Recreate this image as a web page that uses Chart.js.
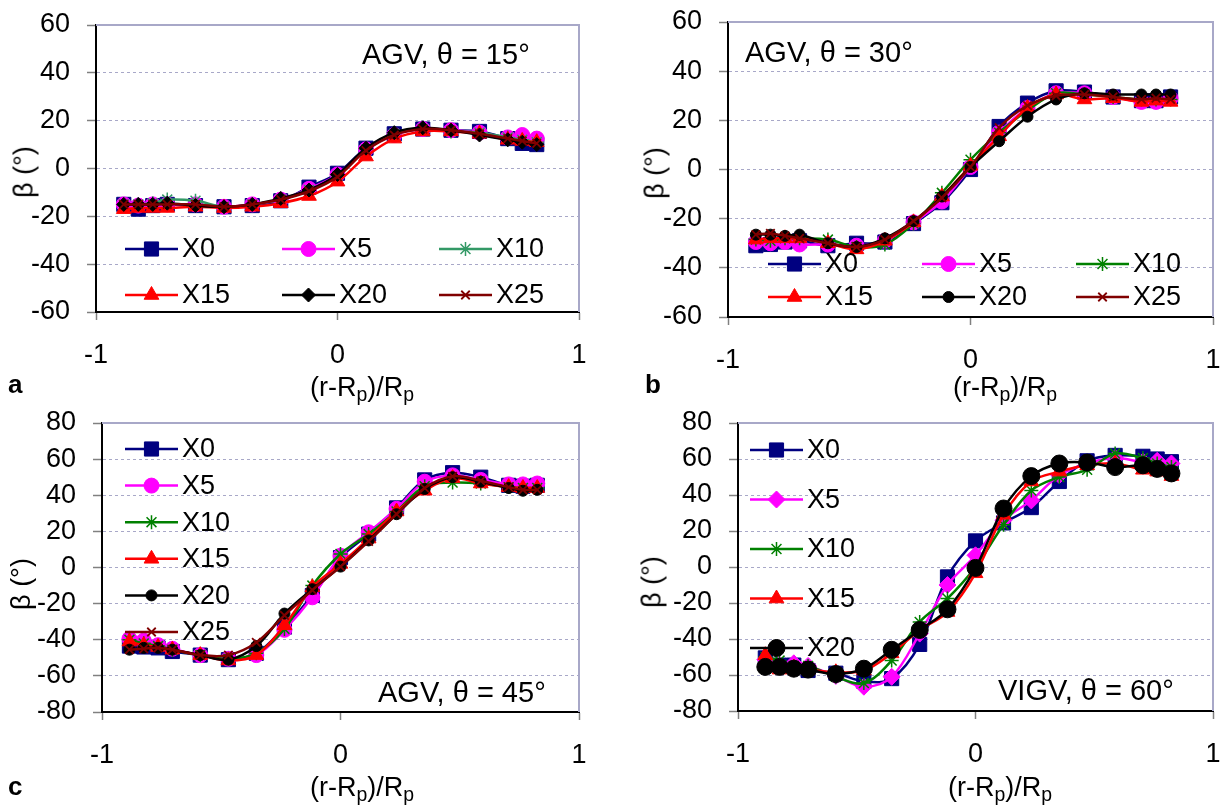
<!DOCTYPE html>
<html>
<head>
<meta charset="utf-8">
<script src="https://cdn.jsdelivr.net/npm/chart.js@4.4.1/dist/chart.umd.min.js"></script>
<style>
  body { margin: 0; background: #fff; }
  #page { position: relative; width: 1224px; height: 808px; font-family: "Liberation Sans", Arial, sans-serif; color: #000; }
  #page canvas { position: absolute; }
  .txt { position: absolute; white-space: nowrap; font-size: 27px; line-height: 1; }
  .ctr { transform: translate(-50%, -50%); }
  .rot { transform: translate(-50%, -50%) rotate(-90deg); }
  .mid { transform: translateY(-50%); }
  .note { font-size: 29px; }
  .letter { font-weight: bold; font-size: 26px; }
  sub { font-size: 0.72em; vertical-align: -0.3em; line-height: 0; }
</style>
</head>
<body>
<div id="page">
  <canvas id="chartA" width="612" height="404" style="left:0;top:0"></canvas>
  <canvas id="chartB" width="612" height="404" style="left:612px;top:0"></canvas>
  <canvas id="chartC" width="612" height="404" style="left:0;top:404px"></canvas>
  <canvas id="chartD" width="612" height="404" style="left:612px;top:404px"></canvas>

  <div class="txt rot" style="left:24px;top:172px">β (°)</div>
  <div class="txt rot" style="left:655px;top:173px">β (°)</div>
  <div class="txt rot" style="left:21px;top:584px">β (°)</div>
  <div class="txt rot" style="left:652px;top:582px">β (°)</div>

  <div class="txt ctr" style="left:362px;top:387px">(r-R<sub>p</sub>)/R<sub>p</sub></div>
  <div class="txt ctr" style="left:1005px;top:387px">(r-R<sub>p</sub>)/R<sub>p</sub></div>
  <div class="txt ctr" style="left:362px;top:787px">(r-R<sub>p</sub>)/R<sub>p</sub></div>
  <div class="txt ctr" style="left:1000px;top:787px">(r-R<sub>p</sub>)/R<sub>p</sub></div>

  <div class="txt mid letter" style="left:8px;top:384px">a</div>
  <div class="txt mid letter" style="left:645px;top:384px">b</div>
  <div class="txt mid letter" style="left:8px;top:786px">c</div>

  <div class="txt mid note" style="left:362px;top:54px">AGV, θ = 15°</div>
  <div class="txt mid note" style="left:745px;top:52px">AGV, θ = 30°</div>
  <div class="txt mid note" style="left:378px;top:692px">AGV, θ = 45°</div>
  <div class="txt mid note" style="left:998px;top:690px">VIGV, θ = 60°</div>
</div>
<script>
// radial positions (r-Rp)/Rp shared by all four panels
const xs = [-0.885, -0.825, -0.765, -0.705, -0.588, -0.47, -0.353, -0.235, -0.118, 0,
            0.118, 0.235, 0.353, 0.47, 0.588, 0.705, 0.765, 0.825];

const xTicks = [-1, 0, 1];
const yTicksAB = [-60, -40, -20, 0, 20, 40, 60];
const yTicksCD = [-80, -60, -40, -20, 0, 20, 40, 60, 80];

// a: AGV, theta = 15
const a_X0  = [-15, -17, -15.5, -15, -15.5, -16, -15.5, -13.5, -7.8, -2, 8.5, 14.5, 16.5, 16, 15.5, 12.5, 10.5, 10];
const a_X5  = [-15, -15.5, -15, -15, -15, -16, -15, -13, -8.5, -2.5, 8, 14, 16.5, 16, 15, 13, 14, 12.5];
const a_X10 = [-15, -15, -14.5, -13, -13.5, -16, -15, -13, -9, -3, 8, 14.5, 16.5, 15.5, 15, 13, 12, 11];
const a_X15 = [-17, -16.5, -16.5, -16.5, -16, -16.5, -16, -14.5, -11.5, -5.5, 5, 12.5, 15.5, 15.5, 14.5, 12, 11.5, 11];
const a_X20 = [-15, -15, -15, -14.5, -15.5, -16, -15, -12.5, -9, -2.5, 8.5, 15, 17, 16, 14, 12, 11, 10];
const a_X25 = [-15, -15, -15, -15, -15, -16, -15, -13, -9.5, -3.5, 7.5, 14, 16.5, 16, 14.5, 12.5, 11.5, 10.5];

// b: AGV, theta = 30
const b_X0  = [-31, -30.5, -29.5, -29, -31, -30, -29.5, -22, -13.5, 0, 17.5, 27, 32, 31.5, 29.5, 28, 28, 29.5];
const b_X5  = [-29.5, -30, -29.5, -30.5, -30.5, -31, -29, -21.5, -13, 1, 15, 25, 31, 31, 29.5, 27.5, 27.5, 29];
const b_X10 = [-28.5, -29, -28, -28, -28.5, -31.5, -30.5, -22, -9.5, 4, 15, 24, 31, 30.5, 29.5, 28.5, 28.5, 28.5];
const b_X15 = [-28.5, -28, -28, -28, -30, -32.5, -29, -21.5, -11, 1.5, 13.5, 25, 30.5, 28.5, 29, 27.5, 28, 27.5];
const b_X20 = [-26.5, -26.5, -27, -26.5, -30, -31.5, -28, -21, -11, 1, 11.5, 21.5, 28.5, 31, 30.5, 30.5, 30.5, 30.5];
const b_X25 = [-26.5, -26, -27, -28, -30, -31.5, -28.5, -21, -11.5, 1, 17, 26, 30, 30.5, 29.5, 28.5, 29, 28.5];

// c: AGV, theta = 45
const c_X0  = [-43.5, -44, -44.5, -46.5, -48.5, -51, -47.5, -33, -15.5, 5.5, 18.5, 33, 48.5, 52.5, 50, 45.5, 45, 45.5];
const c_X5  = [-39.5, -40.5, -43, -45, -48.5, -50.5, -48.5, -34.5, -16.5, 6.5, 19.5, 32.5, 47.5, 51, 48.5, 46, 46, 46.5];
const c_X10 = [-40, -42, -43.5, -45.5, -48.5, -50.5, -47.5, -34, -10, 7.5, 18.5, 31, 45, 47, 46.5, 44.5, 44, 44];
const c_X15 = [-41, -43, -44, -45.5, -48.5, -51.5, -48.5, -32, -11, 2, 16, 31, 42.5, 49.5, 46.5, 44.5, 44, 44];
const c_X20 = [-45.5, -44.5, -44.5, -45.5, -48.5, -51, -43.5, -25.5, -12, 0.5, 15, 29.5, 43.5, 50, 47.5, 44, 42.5, 43];
const c_X25 = [-45.5, -45, -44.5, -45.5, -48.5, -48.5, -41.5, -26.5, -12.5, 0.5, 14.5, 29.5, 44, 50.5, 48, 44.5, 43, 43];

// d: VIGV, theta = 60
const d_X0  = [-50.5, -54.5, -54.5, -57.5, -59, -63.5, -62, -43, -5.5, 14.5, 24.5, 33, 47.5, 59, 62, 61.5, 60, 58.5];
const d_X5  = [-51.5, -54.5, -53.5, -55, -60.5, -66.5, -61, -37, -10, 6.5, 26, 37, 51, 57.5, 60.5, 58.5, 59, 57.5];
const d_X10 = [-50, -52, -55, -55, -61, -64.5, -52, -30.5, -17.5, 0, 23.5, 42.5, 50, 54, 63, 60.5, 57.5, 55.5];
const d_X15 = [-49, -57, -56, -57, -58.5, -57.5, -48, -35, -25, -3.5, 29, 47.5, 53, 56.5, 57.5, 54, 53, 50.5];
const d_X20 = [-55.5, -55.5, -56.5, -57, -59.5, -56.5, -46, -35, -23.5, -0.5, 32.5, 50.5, 57.5, 58, 55.5, 56.5, 54.5, 52];

const FONT = '"Liberation Sans", Arial, sans-serif';

// marker looks
const navySq   = { color: '#000080', shape: 'rect', r: 10 };
const pinkDot  = { color: '#ff00ff', shape: 'circle', r: 7.5 };
const pinkDia  = { color: '#ff00ff', shape: 'rectRot', r: 8.5 };
const tealStar = { color: '#339966', shape: 'star', r: 7, bw: 1.5 };
const greenStar = { color: '#008000', shape: 'star', r: 7, bw: 1.5 };
const redTri   = { color: '#ff0000', shape: 'triangle', r: 8.5 };
const blackDia = { color: '#000000', shape: 'rectRot', r: 7 };
const blackDot = { color: '#000000', shape: 'circle', r: 5.5 };
const bigDot   = { color: '#000000', shape: 'circle', r: 8.5 };
const maroonX  = { color: '#800000', shape: 'crossRot', r: 6, bw: 1.8 };

const frame = {
  id: 'frame',
  beforeDatasetsDraw(chart) {
    const { ctx, chartArea: a } = chart;
    ctx.save();
    ctx.strokeStyle = '#a8a8c8';
    ctx.lineWidth = 2;
    ctx.beginPath();
    ctx.moveTo(a.left, a.top);
    ctx.lineTo(a.right, a.top);
    ctx.lineTo(a.right, a.bottom);
    ctx.stroke();
    ctx.restore();
  }
};

// legend drawn inside the plot area like the excel original
const insideLegend = {
  id: 'insideLegend',
  afterDatasetsDraw(chart, args, opts) {
    const ctx = chart.ctx, area = chart.chartArea;
    ctx.save();
    chart.data.datasets.forEach(function (ds, i) {
      const col = i % opts.cols, row = Math.floor(i / opts.cols);
      const x = area.left + opts.x + col * opts.dx;
      const y = area.top + opts.y + row * opts.dy;
      ctx.setLineDash([]);
      ctx.strokeStyle = ds.borderColor;
      ctx.lineWidth = ds.borderWidth;
      ctx.beginPath();
      ctx.moveTo(x, y);
      ctx.lineTo(x + 53, y);
      ctx.stroke();
      ctx.fillStyle = ds.pointBackgroundColor;
      ctx.strokeStyle = ds.pointBorderColor;
      ctx.lineWidth = ds.pointBorderWidth;
      Chart.helpers.drawPoint(ctx, {
        pointStyle: ds.pointStyle, radius: ds.pointRadius, rotation: 0, borderWidth: ds.pointBorderWidth
      }, x + 26.5, y);
      ctx.fillStyle = '#000';
      ctx.font = '27px ' + FONT;
      ctx.textAlign = 'left';
      ctx.textBaseline = 'middle';
      ctx.fillText(ds.label, x + 57, y + 1);
    });
    ctx.restore();
  }
};

function makeChart(id, series, yTicks, box, legend) {
  const n = series.length;
  const datasets = series.map(function (s, i) {
    const st = s[2];
    return {
      label: s[0],
      data: xs.map(function (x, k) { return { x: x, y: s[1][k] }; }),
      borderColor: st.color,
      backgroundColor: st.color,
      borderWidth: 2.5,
      pointStyle: st.shape,
      pointRadius: st.r,
      pointBackgroundColor: st.color,
      pointBorderColor: st.color,
      pointBorderWidth: st.bw || 1,
      tension: 0.35,
      fill: false,
      order: n - i
    };
  });
  return new Chart(document.getElementById(id), {
    type: 'line',
    data: { datasets: datasets },
    plugins: [frame, insideLegend],
    options: {
      responsive: false,
      animation: false,
      devicePixelRatio: 1,
      layout: { padding: { top: box.top, right: box.right, left: 0, bottom: 0 } },
      plugins: {
        legend: { display: false },
        tooltip: { enabled: false },
        insideLegend: legend
      },
      scales: {
        x: {
          type: 'linear',
          min: xTicks[0],
          max: xTicks[xTicks.length - 1],
          afterBuildTicks: function (s) { s.ticks = xTicks.map(function (v) { return { value: v }; }); },
          afterFit: function (s) { s.height = box.xh; s.paddingLeft = 0; s.paddingRight = 0; },
          grid: { drawOnChartArea: false, tickLength: 8, tickColor: '#808080', tickWidth: 1.5 },
          border: { color: '#000', width: 2 },
          ticks: {
            padding: 19, color: '#000', font: { family: FONT, size: 27 },
            maxRotation: 0, autoSkip: false,
            callback: function (v) { return String(v); }
          }
        },
        y: {
          min: yTicks[0],
          max: yTicks[yTicks.length - 1],
          afterBuildTicks: function (s) { s.ticks = yTicks.map(function (v) { return { value: v }; }); },
          // keep the plot box where the original has it
          afterFit: function (s) { s.width = box.yw; s.paddingTop = 0; s.paddingBottom = 0; },
          grid: { color: '#a8a8c8', lineWidth: 1, tickLength: 9, tickColor: '#808080', tickWidth: 1.5 },
          border: { color: '#000', width: 2, dash: [3, 3] },
          ticks: {
            padding: 17, color: '#000', font: { family: FONT, size: 27 },
            autoSkip: false,
            callback: function (v) { return String(v); }
          }
        }
      }
    }
  });
}

makeChart('chartA', [
  ['X0', a_X0, navySq], ['X5', a_X5, pinkDot], ['X10', a_X10, tealStar],
  ['X15', a_X15, redTri], ['X20', a_X20, blackDia], ['X25', a_X25, maroonX]
], yTicksAB, { top: 25, right: 33, yw: 96, xh: 92 }, { x: 29, y: 224, cols: 3, dx: 157, dy: 46 });

makeChart('chartB', [
  ['X0', b_X0, navySq], ['X5', b_X5, pinkDot], ['X10', b_X10, greenStar],
  ['X15', b_X15, redTri], ['X20', b_X20, blackDot], ['X25', b_X25, maroonX]
], yTicksAB, { top: 22, right: 11, yw: 116, xh: 87 }, { x: 40, y: 242, cols: 3, dx: 154, dy: 33 });

makeChart('chartC', [
  ['X0', c_X0, navySq], ['X5', c_X5, pinkDot], ['X10', c_X10, greenStar],
  ['X15', c_X15, redTri], ['X20', c_X20, blackDot], ['X25', c_X25, maroonX]
], yTicksCD, { top: 19, right: 33, yw: 102, xh: 96 }, { x: 23, y: 26, cols: 1, dx: 0, dy: 36.6 });

makeChart('chartD', [
  ['X0', d_X0, navySq], ['X5', d_X5, pinkDia], ['X10', d_X10, greenStar],
  ['X15', d_X15, redTri], ['X20', d_X20, bigDot]
], yTicksCD, { top: 19, right: 11, yw: 126, xh: 97 }, { x: 12, y: 27, cols: 1, dx: 0, dy: 49.5 });
</script>
</body>
</html>
